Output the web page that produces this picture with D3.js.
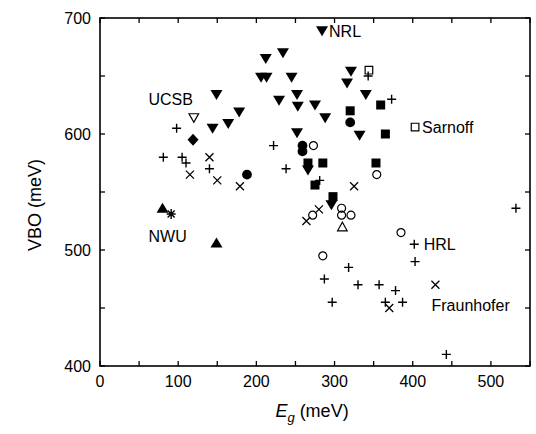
<!DOCTYPE html>
<html><head><meta charset="utf-8">
<script src="https://cdn.jsdelivr.net/npm/d3@7"></script>
<style>body{margin:0;background:#fff}svg{display:block}text{font-family:"Liberation Sans",Arial,sans-serif;fill:#000}</style>
</head><body><svg id="c" width="536" height="434"></svg>
<script>
// Data: [Eg (meV), VBO (meV)]
const triDownFilled = [[284,689],[212,665],[234,670],[206,649],[213,649],[245,649],[252,634],[229,629],[253,624],[275,625],[288,614],[149,634],[178,619],[164,609],[144,605],[252,601],[321,654],[316,644],[340,634],[332,599],[266,569],[296,539]];
const squareFilled = [[359,625],[320,620],[365,600],[266,575],[285,575],[353,575],[275,556],[298,546]];
const squareOpen = [[344,655],[403,606]];
const circleFilled = [[188,565],[259,590],[259,585],[320,610]];
const circleOpen = [[273,590],[354,565],[272,530],[309,536],[309,530],[321,530],[385,515],[285,495]];
const triUpOpen = [[310,520]];
const triDownOpen = [[120,614]];
const triUpFilled = [[80,536],[149,506]];
const diamondFilled = [[119,595]];
const asterisk = [[91,531]];
const plus = [[98,605],[81,580],[105,580],[110,575],[140,570],[222,590],[238,570],[281,560],[343,650],[373,630],[532,536],[402,505],[403,490],[318,485],[287,475],[330,470],[357,470],[378,465],[297,455],[365,455],[387,455],[443,410]];
const crossX = [[140,580],[115,565],[150,560],[179,555],[325,555],[264,525],[280,535],[429,470],[370,450]];
const labels = [["NRL",293,689],["UCSB",62,630],["Sarnoff",412,606],["HRL",414,505],["Fraunhofer",424,453],["NWU",62,512]];
const xTicks = [0,100,200,300,400,500];
const yTicks = [400,500,600,700];

const svg = d3.select("#c");
const x = d3.scaleLinear().domain([0,550]).range([100,530]);
const y = d3.scaleLinear().domain([400,700]).range([366,18]);

const g = svg.append("g");
g.append("rect").attr("x",100).attr("y",18).attr("width",430).attr("height",348)
 .attr("fill","none").attr("stroke","#000").attr("stroke-width",1.6);

const xMinor = d3.range(0,551,50), yMinor = d3.range(400,701,50);
const tl = 5;
xMinor.forEach(v=>{
  g.append("line").attr("x1",x(v)).attr("x2",x(v)).attr("y1",366).attr("y2",366-tl).attr("stroke","#000").attr("stroke-width",1.3);
  g.append("line").attr("x1",x(v)).attr("x2",x(v)).attr("y1",18).attr("y2",18+tl).attr("stroke","#000").attr("stroke-width",1.3);
});
yMinor.forEach(v=>{
  g.append("line").attr("x1",100).attr("x2",100+tl).attr("y1",y(v)).attr("y2",y(v)).attr("stroke","#000").attr("stroke-width",1.3);
  g.append("line").attr("x1",530).attr("x2",530-tl).attr("y1",y(v)).attr("y2",y(v)).attr("stroke","#000").attr("stroke-width",1.3);
});
xTicks.forEach(v=>{
  g.append("text").attr("x",x(v)).attr("y",387).attr("text-anchor","middle").attr("font-size",16).text(v);
});
yTicks.forEach(v=>{
  g.append("text").attr("x",91).attr("y",y(v)+6).attr("text-anchor","end").attr("font-size",16).text(v);
});
const xt = g.append("text").attr("x",312).attr("y",417).attr("text-anchor","middle").attr("font-size",18);
xt.append("tspan").attr("font-style","italic").text("E");
xt.append("tspan").attr("font-style","italic").attr("font-size",13).attr("dy",5).text("g");
xt.append("tspan").attr("dy",-5).text(" (meV)");
g.append("text").attr("transform","translate(41,205) rotate(-90)").attr("text-anchor","middle").attr("font-size",18).text("VBO (meV)");

const shapes = {
  triDown: "M-6,-4.5L6,-4.5L0,5.5Z",
  triUp: "M-6,4.5L6,4.5L0,-5.5Z",
  square: "M-4.5,-4.5H4.5V4.5H-4.5Z",
  diamond: "M0,-6L5.5,0L0,6L-5.5,0Z",
  plus: "M-4.5,0H4.5M0,-4.5V4.5",
  cross: "M-4,-4L4,4M-4,4L4,-4",
  aster: "M-4.5,0H4.5M0,-5V5M-3.5,-3.5L3.5,3.5M-3.5,3.5L3.5,-3.5"
};
function draw(data, path, fill, stroke, sw){
  g.append("g").selectAll("path").data(data).join("path")
    .attr("transform",d=>`translate(${x(d[0])},${y(d[1])})`)
    .attr("d",path).attr("fill",fill).attr("stroke",stroke).attr("stroke-width",sw);
}
draw(triDownFilled, shapes.triDown, "#000", "none", 0);
draw(squareFilled, shapes.square, "#000", "none", 0);
draw(squareOpen, "M-3.8,-3.8H3.8V3.8H-3.8Z", "#fff", "#000", 1.2);
draw(circleFilled, d3.symbol(d3.symbolCircle, 75)(), "#000", "none", 0);
draw(circleOpen, "M4,0A4,4 0 1,1 -4,0A4,4 0 1,1 4,0Z", "none", "#000", 1.2);
draw(triUpOpen, "M-4.8,4L4.8,4L0,-4.5Z", "#fff", "#000", 1.2);
draw(triDownOpen, "M-4.8,-4L4.8,-4L0,4.5Z", "#fff", "#000", 1.2);
draw(triUpFilled, shapes.triUp, "#000", "none", 0);
draw(diamondFilled, shapes.diamond, "#000", "none", 0);
draw(asterisk, shapes.aster, "none", "#000", 1.4);
draw(plus, shapes.plus, "none", "#000", 1.4);
draw(crossX, shapes.cross, "none", "#000", 1.3);

labels.forEach(l=>{
  g.append("text").attr("x",x(l[1])).attr("y",y(l[2])+6).attr("font-size",16).text(l[0]);
});
</script></body></html>
